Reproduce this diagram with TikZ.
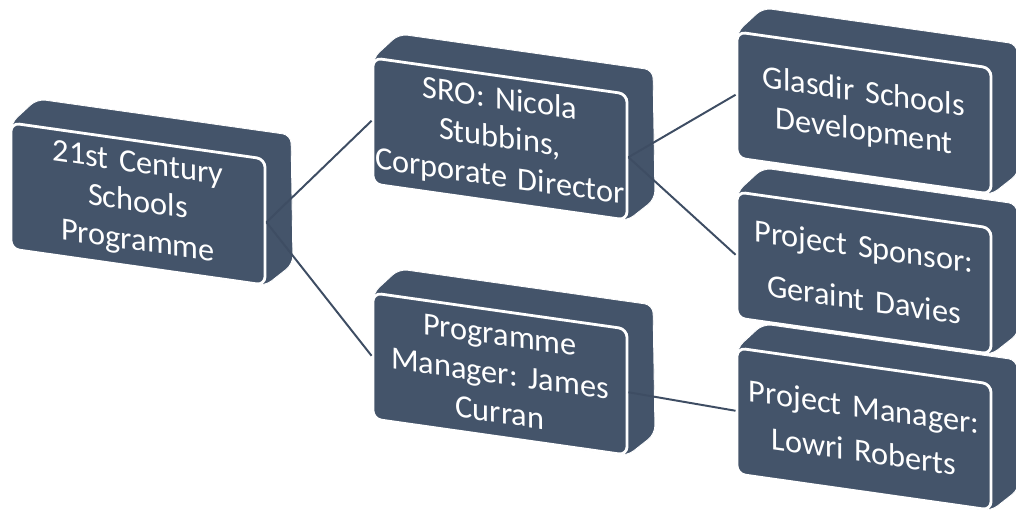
\documentclass[tikz,border=0pt]{standalone}
\usepackage{fontspec}
\setmainfont{Carlito}[WordSpace=0.6]
\frenchspacing
\usetikzlibrary{calc}
\definecolor{slate}{HTML}{44546A}
\definecolor{linkcol}{HTML}{3E4D63}
\tikzset{
  block/.style={draw=white, line width=2pt, fill=slate, rounded corners=6pt,
    minimum width=6.35cm, minimum height=3.15cm, inner sep=0pt,
    text=white, text width=6.3cm, align=center, yslant=-0.142,
    font=\fontsize{23}{27.7}\selectfont},
  depth/.style={fill=slate, draw=white, line width=0.6pt, rounded corners=6pt},
  link/.style={draw=linkcol, line width=1.4pt}
}
\newcommand{\OrgBlock}[3]{%
  \filldraw[depth] ($(#2)+(-127,-81)$) -- ($(#2)+(-101,-105)$) -- ($(#2)+(153,-69)$)
    -- ($(#2)+(155,60)$) -- ($(#2)+(127,82)$) -- ($(#2)+(-127,45)$) -- cycle;
  \node[block] (#1) at (#2) {#3};
}

\begin{document}
\begin{tikzpicture}[x=0.025cm, y=-0.025cm]
    \useasboundingbox (0,0) rectangle (1016,514);
    \clip (0,0) rectangle (1016,514);
    \OrgBlock{prog}{138,204}{21st Century\\Schools\\Programme}
    \OrgBlock{sro}{500,139}{SRO: Nicola\\Stubbins,\\Corporate Director}
    \OrgBlock{pmgr}{500,374}{Programme\\Manager: James\\Curran}
    \OrgBlock{glasdir}{864,113}{Glasdir Schools\\Development}
    \OrgBlock{sponsor}{864,273}{Project Sponsor:\\[10pt]Geraint Davies}
    \OrgBlock{projmgr}{864,429}{Project Manager:\\[4pt]Lowri Roberts}

    \draw[link] (prog.east) -- (sro.west);
    \draw[link] (prog.east) -- (pmgr.west);
    \draw[link] (sro.east) -- (glasdir.west);
    \draw[link] (sro.east) -- (sponsor.west);
    \draw[link] (pmgr.east) -- (projmgr.west);
\end{tikzpicture}
\end{document}
